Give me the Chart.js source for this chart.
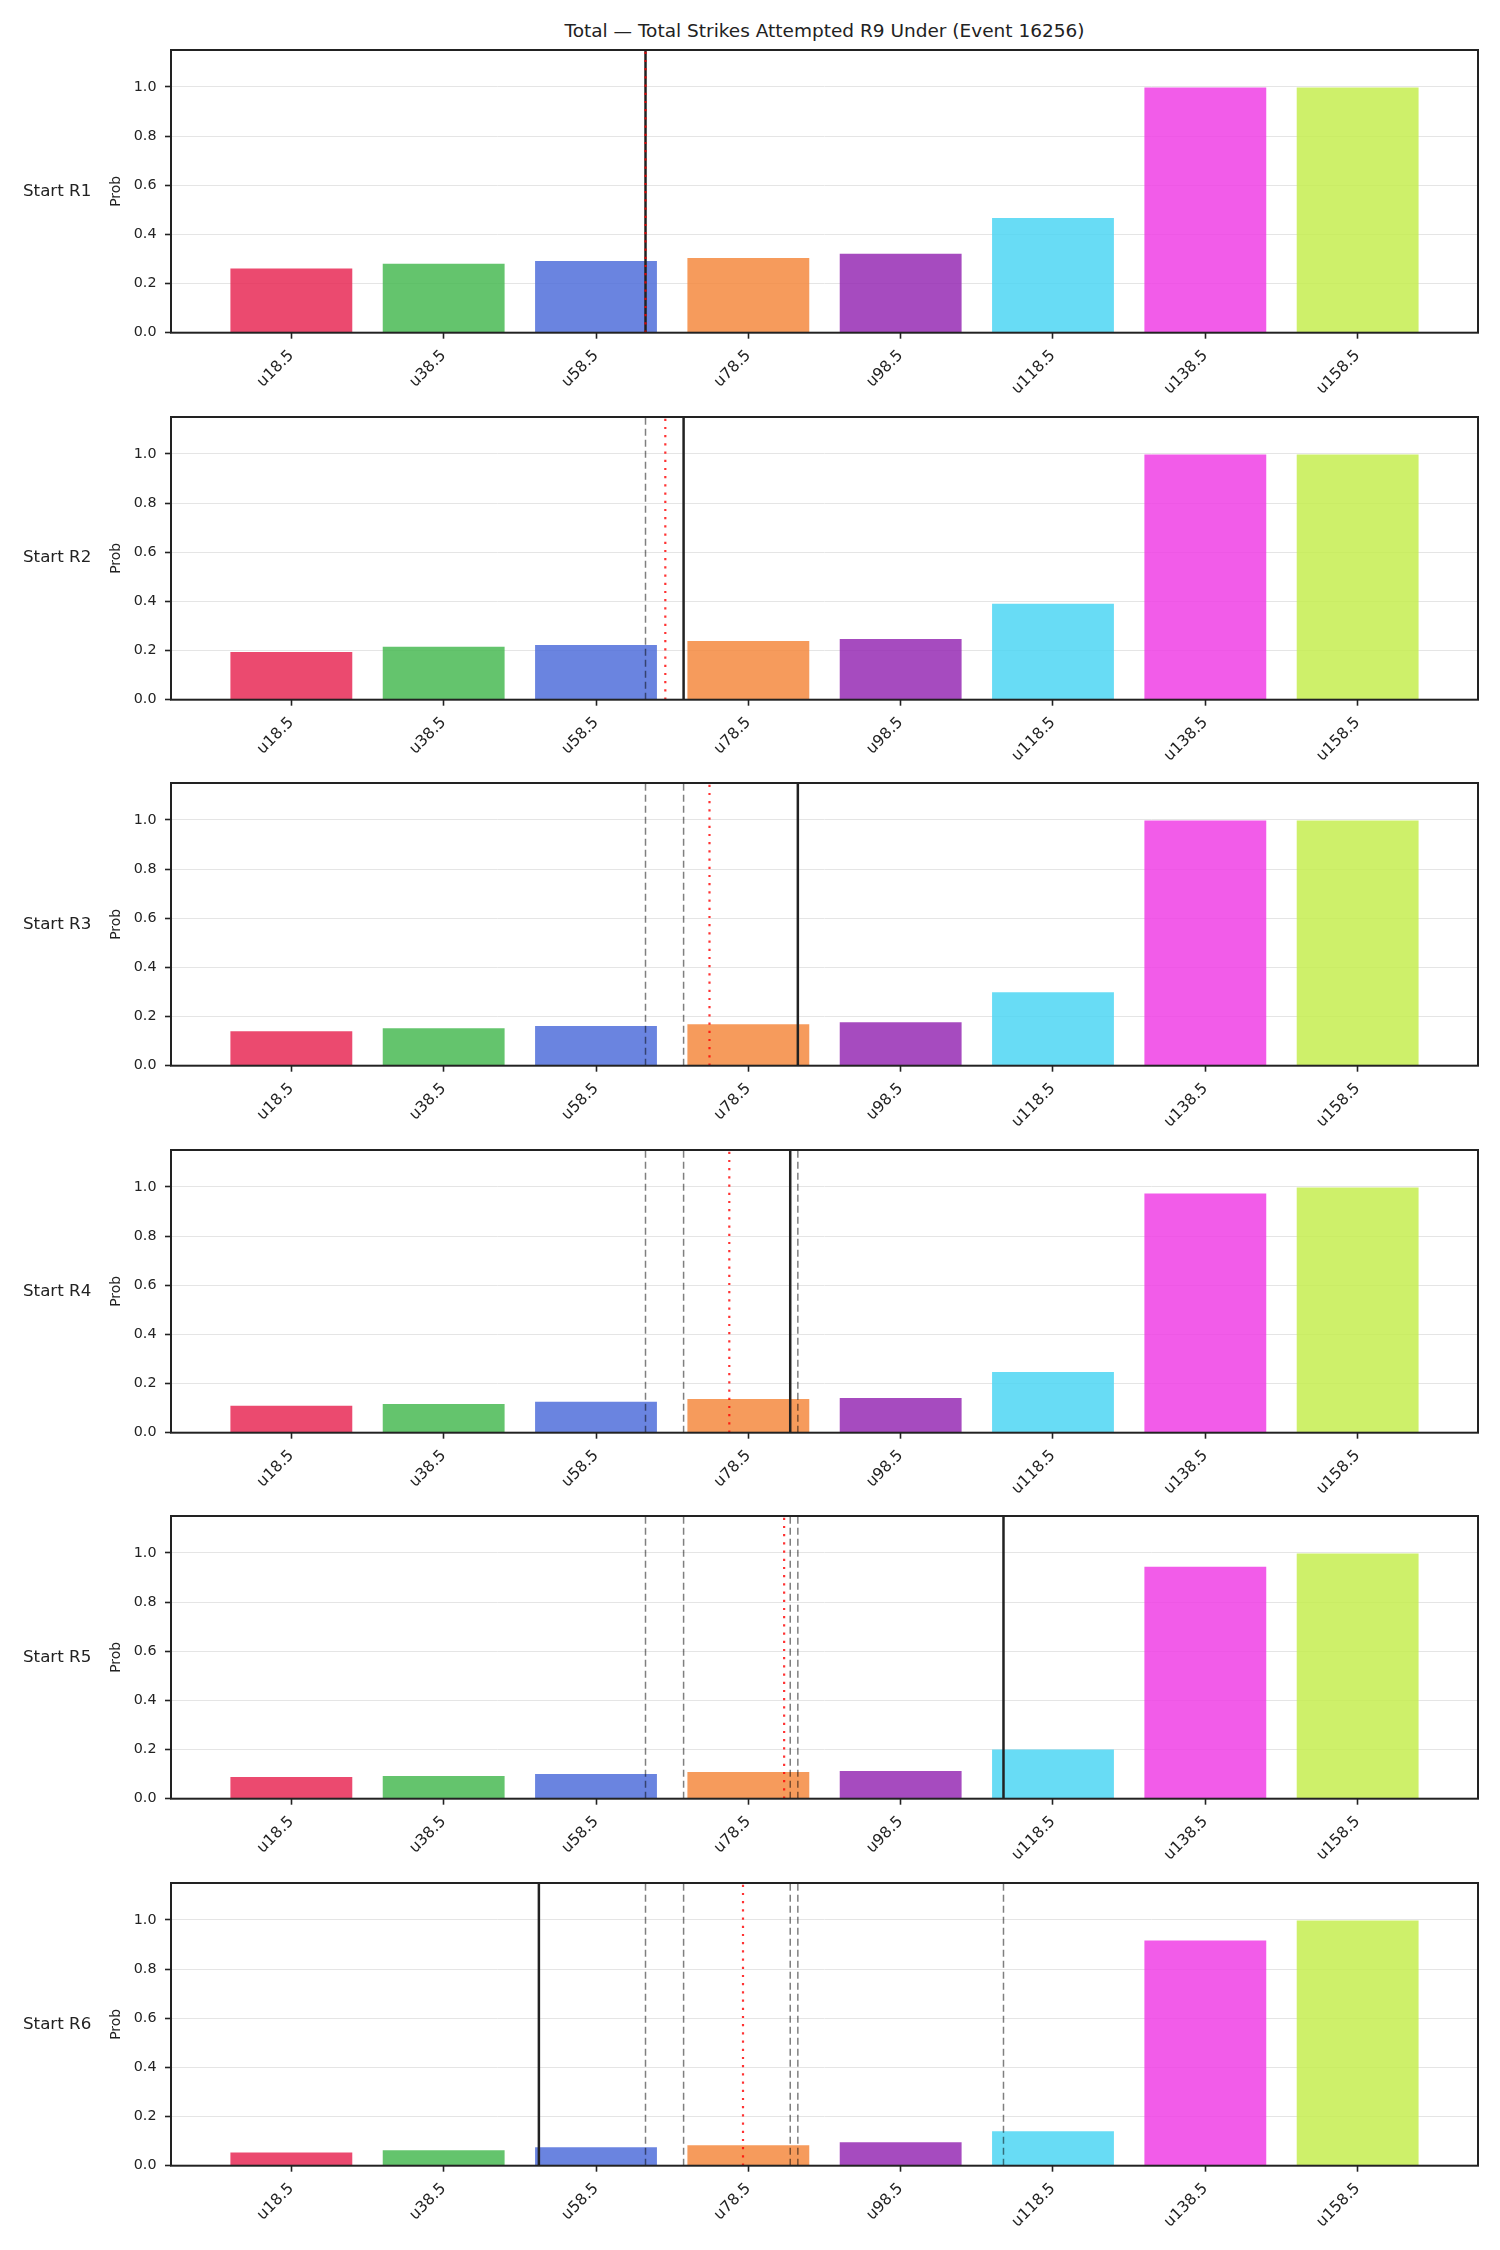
<!DOCTYPE html>
<html>
<head>
<meta charset="utf-8">
<script src="https://cdn.jsdelivr.net/npm/chart.js@4.4.1/dist/chart.umd.min.js"></script>
<style>
    body {
        margin: 0;
        width: 1500px;
        height: 2250px;
        position: relative;
        background: #ffffff;
        font-family: "DejaVu Sans", sans-serif;
        color: #222222;
    }
    canvas {
        position: absolute;
        left: 0;
    }
    #title {
        position: absolute;
        top: 22px;
        left: 171px;
        width: 1307px;
        text-align: center;
        font-size: 18.5px;
        line-height: 1;
        white-space: nowrap;
    }
    .rowLabel {
        position: absolute;
        left: 23px;
        font-size: 16.7px;
        line-height: 1;
        white-space: nowrap;
    }
</style>
</head>
<body>

<div id="title">Total — Total Strikes Attempted R9 Under (Event 16256)</div>

<script>
// strike lines on the x axis
const strikeLabels = ['u18.5', 'u38.5', 'u58.5', 'u78.5', 'u98.5', 'u118.5', 'u138.5', 'u158.5'];
const strikeValues = [18.5, 38.5, 58.5, 78.5, 98.5, 118.5, 138.5, 158.5];

const rowLabels = ['Start R1', 'Start R2', 'Start R3', 'Start R4', 'Start R5', 'Start R6'];

// P(under) per strike, one array per starting round
const probR1 = [0.261, 0.280, 0.292, 0.304, 0.321, 0.467, 0.997, 0.997];
const probR2 = [0.194, 0.215, 0.223, 0.239, 0.247, 0.390, 0.997, 0.997];
const probR3 = [0.140, 0.152, 0.162, 0.169, 0.177, 0.299, 0.997, 0.997];
const probR4 = [0.110, 0.117, 0.126, 0.137, 0.141, 0.247, 0.973, 0.997];
const probR5 = [0.088, 0.092, 0.100, 0.109, 0.113, 0.200, 0.944, 0.997];
const probR6 = [0.054, 0.063, 0.075, 0.083, 0.095, 0.140, 0.916, 0.997];

// strikes at the start of each round (solid), earlier ones drawn dashed
const startTotals = [65, 70, 85, 84, 112, 51];
// projected total (red dotted)
const projectedTotals = [65, 67.6, 73.4, 76, 83.2, 77.8];

const probs = [probR1, probR2, probR3, probR4, probR5, probR6];

const barColors = [
    'rgba(232, 42, 86, 0.85)',
    'rgba(73, 186, 84, 0.85)',
    'rgba(80, 110, 218, 0.85)',
    'rgba(244, 138, 63, 0.85)',
    'rgba(150, 43, 180, 0.85)',
    'rgba(77, 214, 243, 0.85)',
    'rgba(240, 63, 229, 0.85)',
    'rgba(198, 237, 80, 0.85)'
];

const Y_MAX = 1.15;
const FIRST_TOP = 50;
const PANEL_STEP = 366.6;
const PLOT_H = 282.7;
const CANVAS_H = 366;
const FONT = 'DejaVu Sans';


// strike value -> position on the bar axis
function toAxis(v) {
    const step = strikeValues[1] - strikeValues[0];
    return (v - strikeValues[0]) / step;
}

function vline(value, color, width, dash, order) {
    const x = toAxis(value);
    return {
        type: 'line',
        data: [{ x: x, y: 0 }, { x: x, y: Y_MAX }],
        borderColor: color,
        borderWidth: width,
        borderDash: dash,
        borderCapStyle: 'butt',
        pointRadius: 0,
        fill: false,
        tension: 0,
        order: order
    };
}

function noPadding(axis) {
    axis.paddingTop = 0;
    axis.paddingBottom = 0;
    axis.paddingLeft = 0;
    axis.paddingRight = 0;
}

const framePlugin = {
    id: 'frame',
    afterDraw(chart) {
        const a = chart.chartArea;
        const ctx = chart.ctx;
        ctx.save();
        ctx.strokeStyle = '#222222';
        ctx.lineWidth = 2;
        ctx.strokeRect(a.left, a.top, a.right - a.left, a.bottom - a.top);
        ctx.restore();
    }
};


function createPanel(k) {

    const top = FIRST_TOP + k * PANEL_STEP;

    const canvas = document.createElement('canvas');
    canvas.width = 1500;
    canvas.height = CANVAS_H;
    canvas.style.top = (top - 10) + 'px';
    document.body.appendChild(canvas);

    const label = document.createElement('div');
    label.className = 'rowLabel';
    label.style.top = (top + PLOT_H / 2 - 9.5) + 'px';
    label.textContent = rowLabels[k];
    document.body.appendChild(label);

    const datasets = [{
        type: 'bar',
        data: probs[k].map((v, i) => ({ x: i, y: v })),
        backgroundColor: barColors,
        borderWidth: 0,
        barPercentage: 0.8,
        categoryPercentage: 1.0,
        order: 10
    }];

    for (let j = 0; j < k; j++) {
        datasets.push(vline(startTotals[j], 'rgba(0, 0, 0, 0.5)', 1.5, [7, 4], 3));
    }
    datasets.push(vline(startTotals[k], '#222222', 2.5, [], 2));
    datasets.push(vline(projectedTotals[k], 'rgba(255, 0, 0, 0.8)', 2.2, [2.2, 6], 1));

    return new Chart(canvas, {
        type: 'bar',
        data: { datasets: datasets },
        plugins: [framePlugin],
        options: {
            responsive: false,
            animation: false,
            layout: {
                padding: { top: 10, right: 22, bottom: 0, left: 0 }
            },
            plugins: {
                legend: { display: false },
                tooltip: { enabled: false }
            },
            scales: {
                x: {
                    type: 'linear',
                    min: -0.79,
                    max: 7.79,
                    offset: false,
                    bounds: 'data',
                    afterBuildTicks: axis => {
                        axis.ticks = strikeLabels.map((s, i) => ({ value: i }));
                    },
                    afterFit: axis => {
                        axis.height = CANVAS_H - 10 - PLOT_H;
                        noPadding(axis);
                    },
                    grid: {
                        offset: false,
                        drawOnChartArea: false,
                        drawTicks: true,
                        tickLength: 6,
                        tickWidth: 1.6,
                        tickColor: '#222222'
                    },
                    border: { display: false },
                    ticks: {
                        autoSkip: false,
                        minRotation: 45,
                        maxRotation: 45,
                        padding: 8,
                        color: '#222222',
                        font: { family: FONT, size: 15.5 },
                        callback: v => strikeLabels[v]
                    }
                },
                y: {
                    min: 0,
                    max: Y_MAX,
                    afterFit: axis => {
                        axis.width = 171;
                        noPadding(axis);
                    },
                    grid: {
                        color: '#e5e5e5',
                        lineWidth: 1,
                        drawTicks: true,
                        tickLength: 6,
                        tickWidth: 1.6,
                        tickColor: '#222222'
                    },
                    border: { display: false },
                    ticks: {
                        stepSize: 0.2,
                        includeBounds: false,
                        padding: 8.5,
                        color: '#222222',
                        font: { family: FONT, size: 14.3 },
                        callback: v => v.toFixed(1)
                    },
                    title: {
                        display: true,
                        text: 'Prob',
                        color: '#222222',
                        font: { family: FONT, size: 13.9 },
                        padding: { top: 108.4, bottom: 0 }
                    }
                }
            }
        }
    });
}

for (let k = 0; k < probs.length; k++) {
    createPanel(k);
}
</script>
</body>
</html>
